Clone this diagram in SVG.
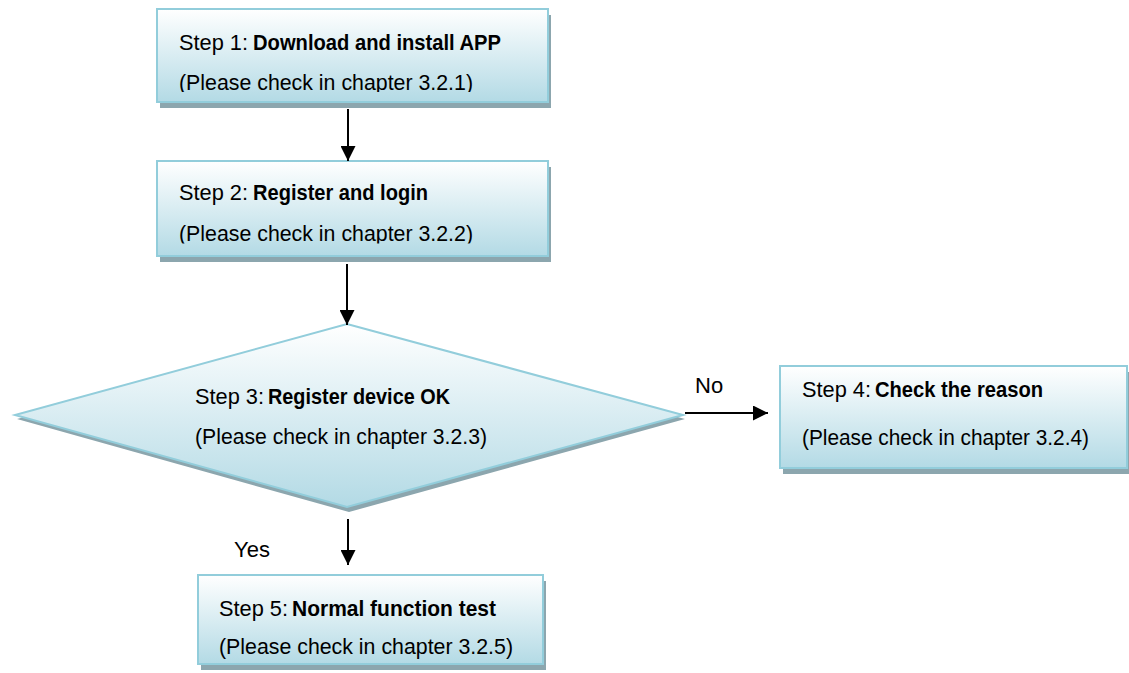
<svg xmlns="http://www.w3.org/2000/svg" width="1129" height="673" viewBox="0 0 1129 673">
  <defs>
    <linearGradient id="fillGrad" x1="0" y1="0" x2="0" y2="1">
      <stop offset="0" stop-color="#ffffff"/>
      <stop offset="1" stop-color="#b3dae5"/>
    </linearGradient>
    <marker id="arrow" markerUnits="userSpaceOnUse" markerWidth="15" markerHeight="15" refX="15" refY="7.5" orient="auto">
      <path d="M0,0 L15,7.5 L0,15 z" fill="#000"/>
    </marker>
    <clipPath id="clip1"><rect x="157" y="9" width="391" height="83"/></clipPath>
    <clipPath id="clip2"><rect x="157" y="161" width="391" height="82.5"/></clipPath>
  </defs>
  <style>
    .shadow { fill: #8ca6ae; }
    .box { fill: url(#fillGrad); stroke: #92cddb; stroke-width: 2; }
    .t { font-family: "Liberation Sans", Arial, sans-serif; font-size: 21.5px; fill: #000; }
    .b { font-weight: bold; }
    .lbl { font-family: "Liberation Sans", Arial, sans-serif; font-size: 22px; fill: #000; }
    .conn { stroke: #000; stroke-width: 2; fill: none; marker-end: url(#arrow); }
  </style>

  <rect width="1129" height="673" fill="#ffffff"/>

  <g id="step1">
    <rect class="shadow" x="160" y="15" width="391" height="93"/>
    <rect class="box" x="157" y="9" width="391" height="93"/>
    <g clip-path="url(#clip1)">
      <text class="t" y="50"><tspan x="179" textLength="69" lengthAdjust="spacingAndGlyphs">Step 1:</tspan><tspan class="b" x="253" textLength="248" lengthAdjust="spacingAndGlyphs">Download and install APP</tspan></text>
      <text class="t" x="179" y="90" textLength="294" lengthAdjust="spacingAndGlyphs">(Please check in chapter 3.2.1)</text>
    </g>
  </g>

  <g id="step2">
    <rect class="shadow" x="160" y="167" width="391" height="95"/>
    <rect class="box" x="157" y="161" width="391" height="95"/>
    <g clip-path="url(#clip2)">
      <text class="t" y="200"><tspan x="179" textLength="69" lengthAdjust="spacingAndGlyphs">Step 2:</tspan><tspan class="b" x="253" textLength="175" lengthAdjust="spacingAndGlyphs">Register and login</tspan></text>
      <text class="t" x="179" y="241" textLength="294" lengthAdjust="spacingAndGlyphs">(Please check in chapter 3.2.2)</text>
    </g>
  </g>

  <g id="step3">
    <polygon class="shadow" points="349,329 685,419 349,512 17,419"/>
    <polygon class="box" points="347,324 683,415 347,507 15,415"/>
    <text class="t" y="404"><tspan x="195" textLength="69" lengthAdjust="spacingAndGlyphs">Step 3:</tspan><tspan class="b" x="268" textLength="182" lengthAdjust="spacingAndGlyphs">Register device OK</tspan></text>
    <text class="t" x="195" y="444" textLength="292" lengthAdjust="spacingAndGlyphs">(Please check in chapter 3.2.3)</text>
  </g>

  <g id="step4">
    <rect class="shadow" x="783" y="372" width="347" height="102"/>
    <rect class="box" x="780" y="366" width="347" height="102"/>
    <text class="t" y="397"><tspan x="802" textLength="69" lengthAdjust="spacingAndGlyphs">Step 4:</tspan><tspan class="b" x="875" textLength="168" lengthAdjust="spacingAndGlyphs">Check the reason</tspan></text>
    <text class="t" x="802" y="445" textLength="287" lengthAdjust="spacingAndGlyphs">(Please check in chapter 3.2.4)</text>
  </g>

  <g id="step5">
    <rect class="shadow" x="201" y="581" width="345" height="89"/>
    <rect class="box" x="198" y="575" width="345" height="89"/>
    <text class="t" y="616"><tspan x="219" textLength="69" lengthAdjust="spacingAndGlyphs">Step 5:</tspan><tspan class="b" x="292" textLength="204" lengthAdjust="spacingAndGlyphs">Normal function test</tspan></text>
    <text class="t" x="219" y="654" textLength="294" lengthAdjust="spacingAndGlyphs">(Please check in chapter 3.2.5)</text>
  </g>

  <g id="connectors">
    <line class="conn" x1="348" y1="109" x2="348" y2="161"/>
    <line class="conn" x1="347" y1="264" x2="347" y2="325"/>
    <line class="conn" x1="685" y1="413" x2="768" y2="413"/>
    <line class="conn" x1="348" y1="519" x2="348" y2="565"/>
    <text class="lbl" x="695" y="393">No</text>
    <text class="lbl" x="234" y="557">Yes</text>
  </g>
</svg>
